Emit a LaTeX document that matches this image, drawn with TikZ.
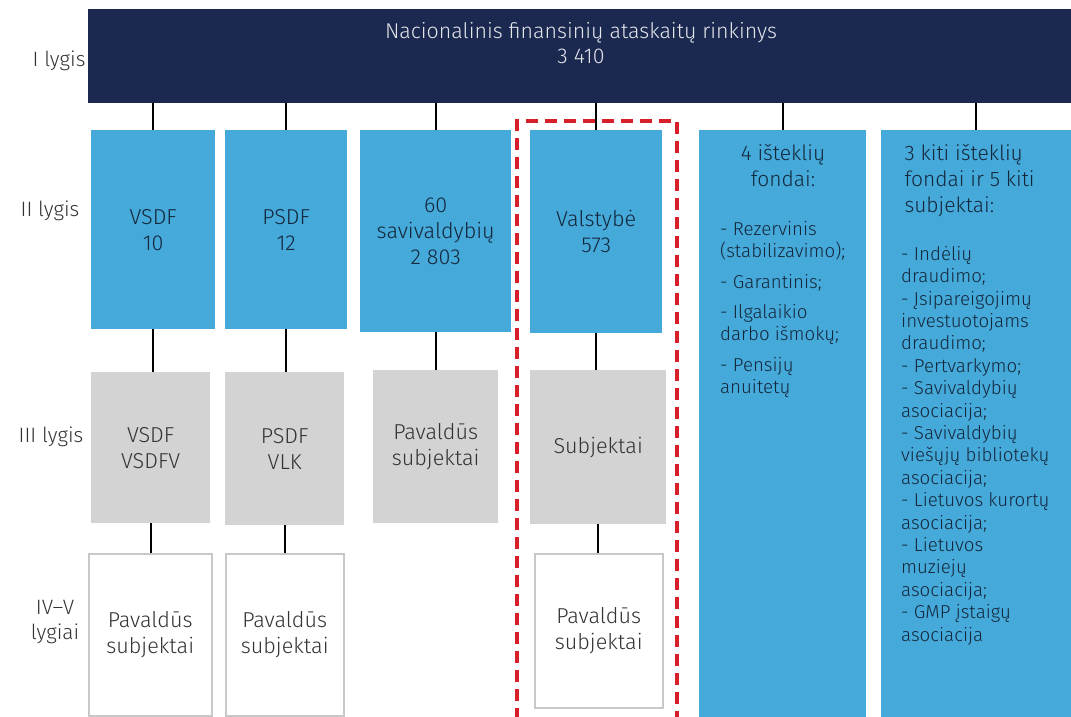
\documentclass[tikz,border=0pt]{standalone}
\usepackage{fontspec}
\setmainfont{Fira Sans}[UprightFont={* Light}]
\usetikzlibrary{positioning}

\definecolor{navy}{HTML}{1B2951}
\definecolor{skyblue}{HTML}{45A9DA}
\definecolor{boxgray}{HTML}{D3D3D3}
\definecolor{framegray}{HTML}{C8C8C8}
\definecolor{dashred}{HTML}{D71F2A}
\definecolor{darktext}{HTML}{14283C}

\tikzset{
  lvlbox/.style={anchor=north west, inner sep=0pt, align=center,
    font=\fontsize{21.6}{26}\selectfont},
  bluebox/.style={lvlbox, fill=skyblue, text=darktext},
  graybox/.style={lvlbox, fill=boxgray, text=black!80},
  whitebox/.style={lvlbox, fill=white, draw=framegray, line width=1.5pt, text=black!80},
  lvllabel/.style={font=\fontsize{20.8}{25}\selectfont, text=black!80, align=center},
  link/.style={draw=black, line width=1.6pt},
  listtext/.style={anchor=north west, inner sep=0pt, align=left, text=darktext,
    font=\fontsize{18.7}{22.4}\selectfont}
}

\begin{document}
\begin{tikzpicture}[x=1pt, y=-1pt]
  \useasboundingbox (0,0) rectangle (1071,717);

  % I lygis
  \node[anchor=north west, inner sep=0pt, fill=navy, minimum width=983, minimum height=94] (top) at (88,9) {};
  \node[lvllabel, anchor=north, text=white!88!navy, font=\fontsize{21.4}{25}\selectfont] (toptext) at (581,19)
    {Nacionalinis finansinių ataskaitų rinkinys\\3 410};

  % II lygis
  \node[bluebox, minimum width=124, minimum height=199] (vsdf) at (91,130) {VSDF\\10};
  \node[bluebox, minimum width=122, minimum height=199] (psdf) at (225,130) {PSDF\\12};
  \node[bluebox, minimum width=151, minimum height=202] (sav) at (360,130) {60\\savivaldybių\\2 803};
  \node[bluebox, minimum width=132, minimum height=203] (val) at (530,130) {Valstybė\\573};
  \node[bluebox, minimum width=167, minimum height=590] (ist) at (699,130) {};
  \node[bluebox, minimum width=190, minimum height=590] (kiti) at (881,130) {};

  \node[lvllabel, anchor=north, text=darktext, font=\fontsize{21}{26}\selectfont] (isttitle) at (783,141) {4 išteklių\\fondai:};
  \node[listtext] (istlist) at (720,221)
    {- Rezervinis\\(stabilizavimo);\\[8pt]- Garantinis;\\[8pt]- Ilgalaikio\\darbo išmokų;\\[8pt]- Pensijų\\anuitetų};

  \node[lvllabel, anchor=north west, align=left, text=darktext, font=\fontsize{21}{26}\selectfont] (kititle) at (901,141)
    {3 kiti išteklių\\fondai ir 5 kiti\\subjektai:};
  \node[listtext] (kitilist) at (901,246)
    {- Indėlių\\draudimo;\\- Įsipareigojimų\\investuotojams\\draudimo;\\- Pertvarkymo;\\- Savivaldybių\\asociacija;\\- Savivaldybių\\viešųjų bibliotekų\\asociacija;\\- Lietuvos kurortų\\asociacija;\\- Lietuvos\\muziejų\\asociacija;\\- GMP įstaigų\\asociacija};

  % III lygis
  \node[graybox, minimum width=119, minimum height=151] (vsdfv) at (91,372) {VSDF\\VSDFV};
  \node[graybox, minimum width=119, minimum height=153] (vlk) at (225,372) {PSDF\\VLK};
  \node[graybox, minimum width=125, minimum height=153] (savpav) at (373,370) {Pavaldūs\\subjektai};
  \node[graybox, minimum width=136, minimum height=154] (valsub) at (530,370) {Subjektai};

  % IV-V lygiai
  \node[whitebox, minimum width=123, minimum height=162] (vsdfpav) at (88,553) {Pavaldūs\\subjektai};
  \node[whitebox, minimum width=118, minimum height=162] (vlkpav) at (225,553) {Pavaldūs\\subjektai};
  \node[whitebox, minimum width=128, minimum height=154] (valpav) at (534,553) {Pavaldūs\\subjektai};

  % level labels
  \node[lvllabel] (lvl1) at (59,61) {I lygis};
  \node[lvllabel] (lvl2) at (50,211) {II lygis};
  \node[lvllabel] (lvl3) at (51,437) {III lygis};
  \node[lvllabel] (lvl4) at (55,622) {IV--V\\lygiai};

  % connectors
  \foreach \b in {vsdf,psdf,sav,val,ist,kiti}
    \draw[link] (top.south -| \b.north) -- (\b.north);
  \draw[link] (vsdf.south) -- (vsdfv.north -| vsdf.south);
  \draw[link] (psdf.south) -- (vlk.north -| psdf.south);
  \draw[link] (sav.south) -- (savpav.north -| sav.south);
  \draw[link] (val.south) -- (valsub.north -| val.south);
  \draw[link] (vsdfv.south) -- (vsdfpav.north -| vsdfv.south);
  \draw[link] (vlk.south) -- (vlkpav.north -| vlk.south);
  \draw[link] (valsub.south) -- (valpav.north -| valsub.south);

  % Valstybe frame
  \coordinate (frameA) at (517,720);
  \coordinate (frameB) at (677,121);
  \draw[dashred, line width=4pt, dash pattern=on 12pt off 7pt] (frameA) |- (frameB) -- (frameB |- frameA);
\end{tikzpicture}
\end{document}
